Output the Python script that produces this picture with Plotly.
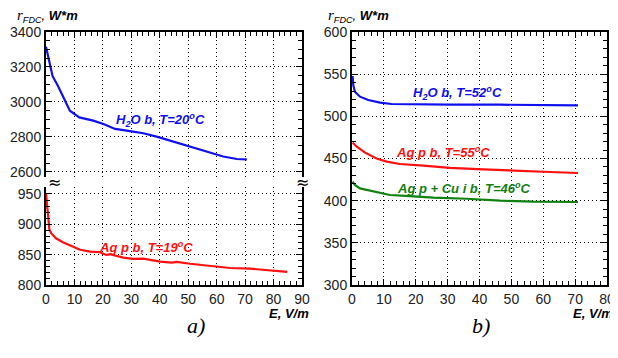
import plotly.graph_objects as go

# ---- data ----
# Panel a) H2O b, T=20C
h2o20_E = [0, 1.4, 2.3, 4.3, 6.1, 8.4, 11.7, 16.6, 20.2, 24.3, 28.4, 34.2, 38.9, 44.8, 49.5, 54.1, 58.8, 62.3, 67.1, 70.6]
h2o20_r = [3316, 3202, 3149, 3088, 3030, 2950, 2912, 2893, 2874, 2846, 2836, 2821, 2802, 2773, 2749, 2730, 2703, 2688, 2674, 2672]
# Panel a) Ag p b, T=19C
ag19_E = [0, 0.5, 1.2, 1.9, 3.5, 6.1, 9.0, 12.0, 15.5, 19.0, 21.1, 22.5, 27.2, 30.7, 34.2, 40.1, 44.2, 46.0, 50.6, 56.5, 60.0, 64.7, 71.7, 77.6, 84.8]
ag19_r = [951, 924, 891, 885, 877, 870, 864, 858, 855, 854, 849.5, 850.6, 845, 843, 843.5, 838.5, 836.8, 838, 835, 832, 831, 828, 827, 824.7, 821.5]
# Panel b)
h2o52_E = [0.2, 0.4, 0.9, 2.5, 5.1, 8.8, 12.4, 20.3, 30.7, 46.4, 62.1, 70.9]
h2o52_r = [547.8, 537.2, 529.2, 523.3, 519.4, 516.2, 514.6, 514.2, 513.8, 513.8, 513.5, 513]
ag55_E = [0.2, 1.5, 4.1, 7.7, 10.9, 15, 22.4, 30.7, 41.2, 51.6, 62.1, 70.9]
ag55_r = [468.8, 464, 456.9, 450, 446.3, 443.5, 441.5, 439, 437.2, 435.2, 434, 432.8]
agcu46_E = [0.2, 0.9, 2.5, 5.6, 8.8, 11.9, 18.2, 25.5, 36, 46.4, 56.8, 70.9]
agcu46_r = [422.5, 418.6, 414.6, 411.9, 408.7, 406.7, 405.5, 403.5, 402.3, 400, 398.8, 398.4]

left_x_ticks = [0, 10, 20, 30, 40, 50, 60, 70, 80, 90]
right_x_ticks = [0, 10, 20, 30, 40, 50, 60, 70, 80]
top_left_y_ticks = [2600, 2800, 3000, 3200, 3400]
bot_left_y_ticks = [800, 850, 900, 950]
right_y_ticks = [300, 350, 400, 450, 500, 550, 600]

# page body has an 8px margin: size the figure to fill the rest of the window
OFF = 8
W, H = 618 - OFF, 358 - OFF
def px(x): return (x - OFF) / W
def py(y): return 1 - (y - OFF) / H

BLUE = "#1010ee"
RED = "#ff1010"
GREEN = "#108010"
TICKFONT = dict(family="Liberation Sans, Arial", size=14, color="#222")
GRIDDASH = "1px,3px"

fig = go.Figure()
fig.add_trace(go.Scatter(x=h2o20_E, y=h2o20_r, mode="lines", line=dict(color=BLUE, width=2.2), xaxis="x", yaxis="y"))
fig.add_trace(go.Scatter(x=ag19_E, y=ag19_r, mode="lines", line=dict(color=RED, width=2.2), xaxis="x2", yaxis="y2"))
fig.add_trace(go.Scatter(x=h2o52_E, y=h2o52_r, mode="lines", line=dict(color=BLUE, width=2.2), xaxis="x3", yaxis="y3"))
fig.add_trace(go.Scatter(x=ag55_E, y=ag55_r, mode="lines", line=dict(color=RED, width=2.2), xaxis="x3", yaxis="y3"))
fig.add_trace(go.Scatter(x=agcu46_E, y=agcu46_r, mode="lines", line=dict(color=GREEN, width=2.2), xaxis="x3", yaxis="y3"))

def xax(dom, rng, ticks, side="bottom", labels=True, anchor="y", mirror=False):
    return dict(domain=dom, range=rng, anchor=anchor, side=side, automargin=False,
                tickvals=ticks, showticklabels=labels, tickfont=TICKFONT,
                showline=True, linecolor="black", linewidth=2, mirror=mirror,
                ticks="inside", ticklen=6, tickcolor="black", tickwidth=1,
                showgrid=True, gridcolor="black", griddash=GRIDDASH, gridwidth=1,
                zeroline=False,
                minor=dict(dtick=2, ticks="inside", ticklen=4, tickcolor="black", showgrid=False))

def yax(dom, rng, ticks, minor, anchor):
    return dict(domain=dom, range=rng, anchor=anchor, automargin=False,
                tickvals=ticks, tickfont=TICKFONT,
                showline=True, linecolor="black", linewidth=2, mirror="ticks",
                ticks="inside", ticklen=6, tickcolor="black", tickwidth=1,
                showgrid=True, gridcolor="black", griddash=GRIDDASH, gridwidth=1,
                zeroline=False,
                minor=dict(dtick=minor, ticks="inside", ticklen=4, tickcolor="black", showgrid=False))

left_dom = [px(46), px(302)]
right_dom = [px(352), px(607)]
fig.update_layout(
    width=W, height=H, margin=dict(l=0, r=0, t=0, b=0, autoexpand=False),
    paper_bgcolor="white", plot_bgcolor="white", showlegend=False,
    xaxis=xax(left_dom, [0, 90], left_x_ticks, side="top", labels=False, anchor="y"),
    yaxis=yax([py(177), py(32)], [2571, 3400], top_left_y_ticks, 50, "x"),
    xaxis2=xax(left_dom, [0, 90], left_x_ticks, anchor="y2"),
    yaxis2=yax([py(285), py(187)], [800, 961.5], bot_left_y_ticks, 10, "x2"),
    xaxis3=xax(right_dom, [0, 80], right_x_ticks, anchor="y3", mirror="ticks"),
    yaxis3=yax([py(285), py(32)], [300, 600], right_y_ticks, 10, "x3"),
)

ann_font = dict(family="Liberation Sans, Arial", size=13)
def lab(text, x, y, xr, yr, color):
    fig.add_annotation(text="<b><i>" + text + "</i></b>", x=x, y=y, xref=xr, yref=yr,
                       showarrow=False, font=dict(ann_font, color=color))

lab("H<sub>2</sub>O b, T=20<sup>o</sup>C", 40.4, 2897, "x", "y", BLUE)
lab("Ag p b, T=19<sup>o</sup>C", 35.2, 862, "x2", "y2", RED)
lab("H<sub>2</sub>O b, T=52<sup>o</sup>C", 33.1, 528, "x3", "y3", BLUE)
lab("Ag p b, T=55<sup>o</sup>C", 28.7, 458, "x3", "y3", RED)
lab("Ag p + Cu i b, T=46<sup>o</sup>C", 35, 415, "x3", "y3", GREEN)

# axis titles
ytitle = ('<span style="font-family:Liberation Serif;font-style:italic;font-size:15px">r</span>'
          '<sub><i>FDC</i></sub><i>,</i> <b><i>W*m</i></b>')
for xx in (px(15), px(326)):
    fig.add_annotation(text=ytitle, x=xx, y=py(16), xref="paper", yref="paper",
                       xanchor="left", yanchor="middle", showarrow=False,
                       font=dict(family="Liberation Sans, Arial", size=13, color="black"))
for xx in (px(311), px(615)):
    fig.add_annotation(text="<b><i>E, V/m</i></b>", x=xx, y=py(313), xref="paper", yref="paper",
                       xanchor="right", yanchor="middle", showarrow=False,
                       font=dict(family="Liberation Sans, Arial", size=13, color="black"))
for xx, t in ((px(185), "a)"), (px(492), "b)")):
    fig.add_annotation(text="<i>" + t + "</i>", x=xx, y=py(340), xref="paper", yref="paper",
                       showarrow=False,
                       font=dict(family="Liberation Serif, Times New Roman", size=22, color="black"))
# axis break marks
for xx in (px(46), px(302)):
    fig.add_annotation(text="≈", x=xx, y=py(182), xref="paper", yref="paper",
                       showarrow=False, font=dict(family="DejaVu Sans", size=16, color="black"))

fig.write_html("out.html")
